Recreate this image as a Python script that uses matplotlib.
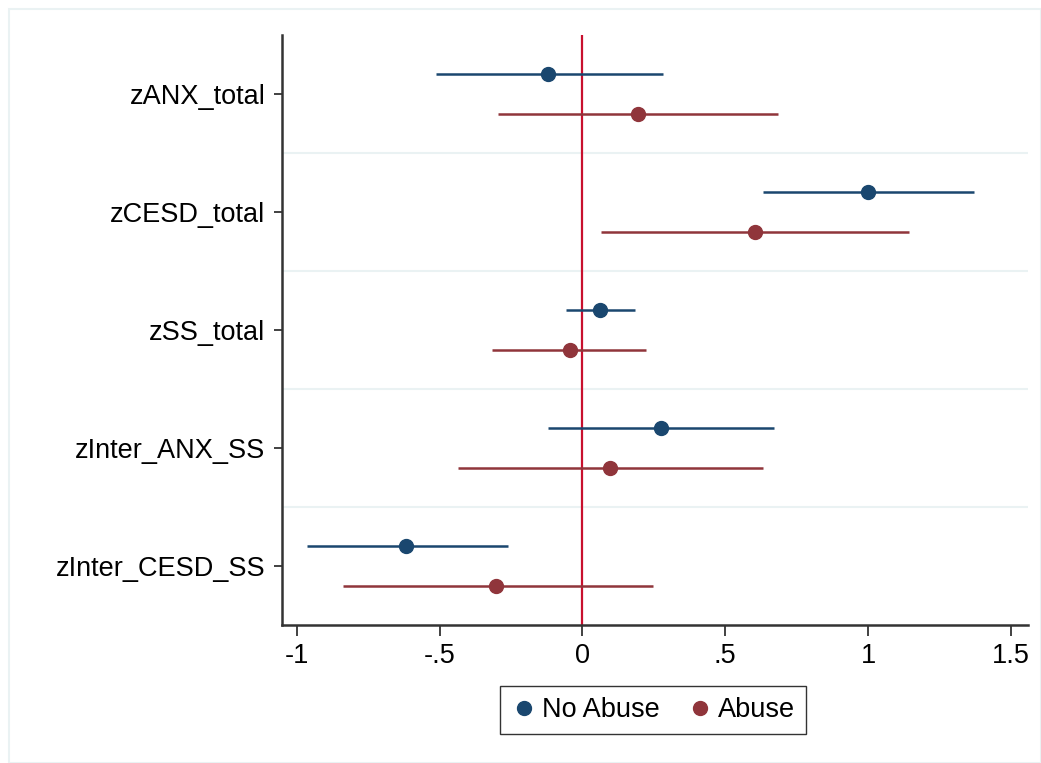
import numpy as np
import matplotlib
matplotlib.use("Agg")
import matplotlib.pyplot as plt
from matplotlib.patches import Rectangle

# coefficients and 95% CIs
labels = ["zANX_total", "zCESD_total", "zSS_total", "zInter_ANX_SS", "zInter_CESD_SS"]
noabuse_est = [-0.119, 1.000, 0.063, 0.276, -0.619]
noabuse_lo = [-0.514, 0.633, -0.059, -0.119, -0.965]
noabuse_hi = [0.283, 1.371, 0.185, 0.671, -0.262]
abuse_est = [0.196, 0.605, -0.045, 0.098, -0.301]
abuse_lo = [-0.294, 0.066, -0.315, -0.437, -0.839]
abuse_hi = [0.685, 1.143, 0.224, 0.633, 0.248]
xticks = [-1, -0.5, 0, 0.5, 1, 1.5]
xticklabels = ["-1", "-.5", "0", ".5", "1", "1.5"]

blue = "#1a476f"
red = "#90353b"
plt.rcParams['font.family'] = ['Liberation Sans', 'DejaVu Sans']
fs = 19.5

fig = plt.figure(figsize=(10.41, 7.63), dpi=100)
fig.patches.append(Rectangle((9/1041, 0), 1 - 9/1041, 1 - 9/763, transform=fig.transFigure,
                             fill=False, edgecolor="#eaf2f3", linewidth=1.5))
ax = fig.add_axes([282/1041, 1 - 625/763, (1028 - 282)/1041, (625 - 35)/763])

y = np.arange(len(labels))
off = 0.17

for s in np.arange(len(labels) - 1) + 0.5:
    ax.axhline(s, color="#eaf2f3", lw=1.5, zorder=0)
ax.axvline(0, color="#c8102e", lw=1.6, zorder=1)

ax.hlines(y - off, noabuse_lo, noabuse_hi, color=blue, lw=1.8, zorder=2)
ax.plot(noabuse_est, y - off, "o", color=blue, ms=10, zorder=3, label="No Abuse")
ax.hlines(y + off, abuse_lo, abuse_hi, color=red, lw=1.8, zorder=2)
ax.plot(abuse_est, y + off, "o", color=red, ms=10, zorder=3, label="Abuse")

ax.set_xlim(-1.052, 1.56)
ax.set_ylim(len(labels) - 0.5, -0.5)
ax.set_yticks(y)
ax.set_yticklabels(labels, fontsize=fs)
ax.set_xticks(xticks)
ax.set_xticklabels(xticklabels, fontsize=fs)

for side in ["top", "right"]:
    ax.spines[side].set_visible(False)
for side in ["left", "bottom"]:
    ax.spines[side].set_color("#333333")
    ax.spines[side].set_linewidth(1.8)
ax.tick_params(axis="x", length=8, width=1.3, color="#333333", pad=5)
ax.tick_params(axis="y", length=6, width=1.3, color="#333333", pad=6)

leg = fig.legend(loc="center", bbox_to_anchor=(653/1041, 1 - 710/763), ncol=2,
                 fontsize=fs, frameon=True, fancybox=False, handletextpad=0.15,
                 columnspacing=1.0, handlelength=1.0, borderpad=0.4, markerscale=1.0)
leg.get_frame().set_edgecolor("black")
leg.get_frame().set_linewidth(1.0)

fig.savefig("out.png", dpi=100)
